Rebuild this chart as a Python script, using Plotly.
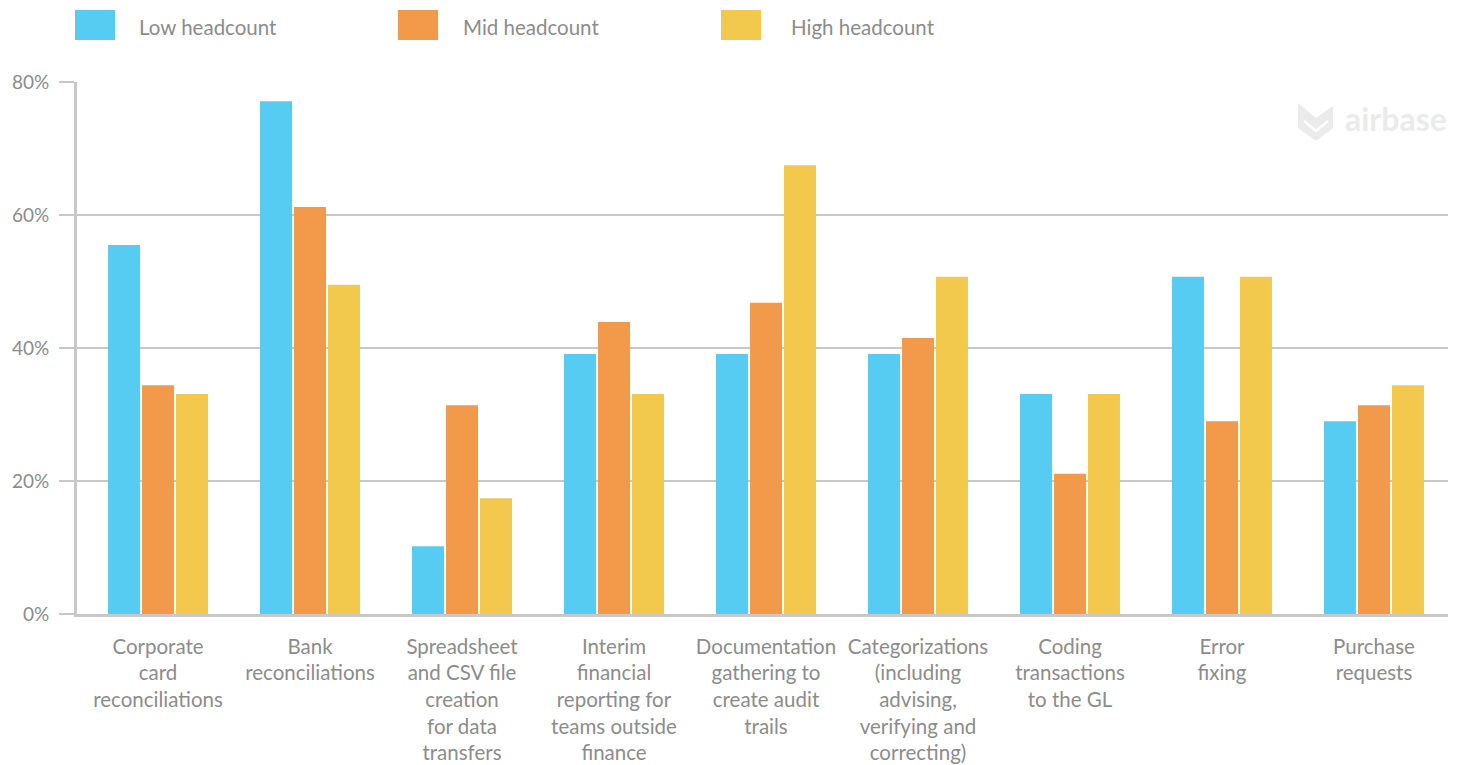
import plotly.graph_objects as go

categories = [
    "Corporate<br>card<br>reconciliations",
    "Bank<br>reconciliations",
    "Spreadsheet<br>and CSV file<br>creation<br>for data<br>transfers",
    "Interim<br>financial<br>reporting for<br>teams outside<br>finance",
    "Documentation<br>gathering to<br>create audit<br>trails",
    "Categorizations<br>(including<br>advising,<br>verifying and<br>correcting)",
    "Coding<br>transactions<br>to the GL",
    "Error<br>fixing",
    "Purchase<br>requests",
]
series_names = ["Low headcount", "Mid headcount", "High headcount"]
low_values = [55.5, 77.1, 10.2, 39.1, 39.1, 39.1, 33.1, 50.7, 29.0]
mid_values = [34.4, 61.2, 31.4, 43.9, 46.8, 41.5, 21.1, 29.0, 31.4]
high_values = [33.1, 49.5, 17.4, 33.1, 67.5, 50.7, 33.1, 50.7, 34.4]
y_tickvals = [0, 20, 40, 60, 80]
y_ticktext = ["0%", "20%", "40%", "60%", "80%"]

colors = ["#56CCF2", "#F2994A", "#F2C94C"]
TEXT = "#8c8c8c"
GRID = "#c8c8c8"
FONT = "Lato, 'Open Sans', sans-serif"

OFF = 8  # page body margin
W, H = 1457, 757
L, R, T, B = 69, 17, 74, 151
PW, PH = W - L - R, H - T - B


def px(x):
    return (x - OFF - L) / PW


def py(y):
    return (H - B - (y - OFF)) / PH


fig = go.Figure()
xs = list(range(len(categories)))
for name, vals, c in zip(series_names, [low_values, mid_values, high_values], colors):
    fig.add_trace(go.Bar(x=xs, y=vals, name=name, marker=dict(color=c, line=dict(width=0)),
                         hovertemplate="%{y:.1f}%<extra>" + name + "</extra>"))

shapes = []
annotations = []
# custom legend
leg_x = [75, 398, 721]
text_x = [137, 461, 789]
for i, name in enumerate(series_names):
    shapes.append(dict(type="rect", xref="paper", yref="paper",
                       x0=px(leg_x[i]), x1=px(leg_x[i] + 40), y0=py(40), y1=py(10),
                       fillcolor=colors[i], line=dict(width=0)))
    annotations.append(dict(xref="paper", yref="paper", x=px(text_x[i]), y=py(27),
                            text=name, showarrow=False, xanchor="left", yanchor="middle",
                            font=dict(family=FONT, size=20.5, color=TEXT)))

# watermark logo
def pth(points):
    return "M " + " L ".join(f"{px(a)},{py(b)}" for a, b in points) + " Z"

shapes.append(dict(type="path", xref="paper", yref="paper",
                   path=pth([(1298, 103), (1316, 118), (1333, 106), (1333, 128), (1316, 141), (1298, 128)]),
                   fillcolor="#ebebeb", line=dict(width=0), layer="below"))
shapes.append(dict(type="path", xref="paper", yref="paper",
                   path="M {},{} L {},{} L {},{}".format(px(1304), py(121), px(1316), py(131), px(1328), py(121)),
                   line=dict(color="white", width=2.5), layer="below"))
annotations.append(dict(xref="paper", yref="paper", x=px(1343), y=py(118),
                        text="<b>airbase</b>", showarrow=False, xanchor="left", yanchor="middle",
                        font=dict(family=FONT, size=32, color="#ebebeb")))

fig.update_layout(
    width=W, height=H,
    margin=dict(l=L, r=R, t=T, b=B, autoexpand=False),
    paper_bgcolor="white", plot_bgcolor="white",
    barmode="group", bargap=0.329, bargroupgap=0.059,
    showlegend=False,
    font=dict(family=FONT, color=TEXT),
    shapes=shapes, annotations=annotations,
    xaxis=dict(
        range=[-0.533, 8.487], tickmode="array", tickvals=xs, ticktext=categories,
        showgrid=False, showline=True, linecolor=GRID, linewidth=3,
        ticks="", ticklabelstandoff=12, tickfont=dict(family=FONT, size=20.5, color=TEXT),
        zeroline=False, fixedrange=True,
    ),
    yaxis=dict(
        range=[0, 80], tickmode="array", tickvals=y_tickvals, ticktext=y_ticktext,
        showgrid=True, gridcolor=GRID, gridwidth=2,
        showline=True, linecolor=GRID, linewidth=3,
        ticks="outside", ticklen=15, tickcolor=GRID, tickwidth=2,
        ticklabelstandoff=6, tickfont=dict(family=FONT, size=19, color=TEXT),
        zeroline=False, fixedrange=True,
    ),
)

fig.write_html("out.html")
